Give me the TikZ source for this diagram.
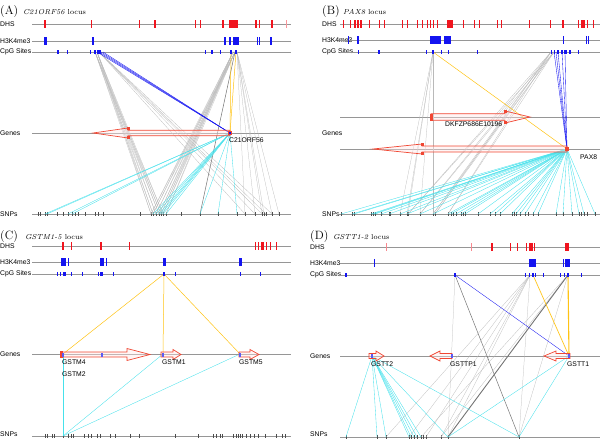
\documentclass[tikz,border=0pt]{standalone}
\usepackage{fontspec}
\newfontfamily\lab{Liberation Sans}
\definecolor{dhsred}{RGB}{240,20,30}
\definecolor{hblue}{RGB}{20,20,240}
\definecolor{cyl}{RGB}{70,225,235}
\definecolor{yel}{RGB}{255,195,20}
\definecolor{arr}{RGB}{240,70,50}
\definecolor{trk}{RGB}{150,150,150}
\newcommand{\trkmarks}[4]{\foreach \x/\w in {#4} \fill[#1] ({\x-\w/2},{#2-#3}) rectangle ({\x+\w/2},{#2+#3});}
\newcommand{\snpset}[3]{\foreach \x in {#3} {\coordinate (#1S\x) at (\x,#2); \draw[snpm] (\x,{#2-2}) -- (\x,{#2+2});}}
\newcommand{\genearrow}[6]{\draw[genea] (#1,{#4-#5}) -- (#3,{#4-#5}) -- (#3,{#4-#6}) -- (#2,#4) -- (#3,{#4+#6}) -- (#3,{#4+#5}) -- (#1,{#4+#5}) -- cycle;}
\begin{document}
\begin{tikzpicture}[x=1pt,y=-1pt,
 track/.style={draw=trk, line width=0.9pt},
 lbl/.style={font=\lab\fontsize{6.8}{8}\selectfont, anchor=west, inner sep=0pt},
 glbl/.style={font=\lab\fontsize{6.8}{8}\selectfont, anchor=north west, inner sep=0pt},
 ttl/.style={font=\fontsize{12}{13}\selectfont, anchor=base west, inner sep=0pt},
 loc/.style={font=\fontsize{7.2}{8}\selectfont, anchor=base west, inner sep=0pt},
 gr/.style={draw=gray!55, line width=0.25pt},
 dgr/.style={draw=gray!90!black, line width=0.5pt},
 cy/.style={draw=cyl, line width=0.35pt},
 bl/.style={draw=hblue, line width=0.35pt},
 ye/.style={draw=yel, line width=0.5pt},
 snpm/.style={draw=black!70, line width=0.5pt},
 genea/.style={draw=arr, line width=0.7pt, fill=red!10, fill opacity=0.4},
 tss/.style={fill=arr}]
\useasboundingbox (0,0) rectangle (600,439);
% ================= Panel A =================
\node[ttl] (aTi) at (0,14) {(A)};
\node[loc] (aLo) at (23,14) {\textit{C21ORF56} locus};
\node[lbl] (aL1) at (0,24) {DHS};
\node[lbl] (aL2) at (0,41) {H3K4me3};
\node[lbl] (aL3) at (0,52) {CpG Sites};
\node[lbl] (aL4) at (0,133) {Genes};
\node[lbl] (aL5) at (0,214) {SNPs};
\foreach \y in {24,41,52,133,214} \draw[track] (32,\y) -- (291,\y);
\snpset{a}{214}{38,40,45,47,57,63,68,72,75,78,85,95,98,103,140,151,153,156,159,161,163,166,181,200,218,237,245,255,262,264,266,272,279}
\foreach \c in {95,97,99,101,103,231,233,235,236,237} \coordinate (aC\c) at (\c,52);
\coordinate (aT) at (230,133);
\foreach \s in {151,153,156,159,161,163} {\draw[gr] (aC95) -- (aS\s); \draw[gr] (aC97) -- (aS\s);}
\foreach \s in {245,255,262,266,272} \draw[gr] (aC99) -- (aS\s);
\foreach \s in {151,153,156,159,161,163,166} {\draw[gr] (aC233) -- (aS\s); \draw[gr] (aC235) -- (aS\s);}
\foreach \s in {245,255,262,264,272,279} \draw[gr] (aC237) -- (aS\s);
\draw[dgr] (aC235) -- (aS200);
\foreach \c in {97,99,101,103} \draw[bl] (aC\c) -- (aT);
\draw[ye] (aC231) -- (aT); \draw[ye] (aC236) -- (aT);
\foreach \s in {45,47,68,72,153,156,159,161,163,166,200,218,237} \draw[cy] (aT) -- (aS\s);
\trkmarks{dhsred}{24}{4}{45/1.5,91.5/0.6,139.5/1,155/1.2,195/0.8,200/0.6,223/2,233.5/9,256/1.5,259.5/1.5,272/2}
\trkmarks{dhsred!45}{24}{4}{286/0.8}
\trkmarks{hblue}{41}{4}{45/3,93/2.5,225/1.5,229.5/2,236/6,257/1,259.5/1,271/1.5}
\trkmarks{hblue}{52}{1.8}{58/2,67/1,90/1,95/1.5,98/2,100/1.5,205/1,212/1.5,220/1,231/1.5,236/2}
\genearrow{230}{93}{128}{133}{2.7}{5}
\fill[arr] (126.5,127) rectangle (129.5,130); \fill[arr] (126.5,136) rectangle (129.5,139);
\fill[arr] (228,131) rectangle (232,135); \fill[hblue] (229.3,132.3) rectangle (230.7,133.7);
\node[glbl] (aG1) at (229,137.5) {C21ORF56};
% ================= Panel B =================
\node[ttl] (bTi) at (322,14) {(B)};
\node[loc] (bLo) at (343,14) {\textit{PAX8} locus};
\node[lbl] (bL1) at (322,24) {DHS};
\node[lbl] (bL2) at (322,40) {H3K4me3};
\node[lbl] (bL3) at (322,52) {CpG Sites};
\node[lbl] (bL4) at (322,133) {Genes};
\node[lbl] (bL5) at (322,214) {SNPs};
\foreach \y in {24,40,52,117,149} \draw[track] (340,\y) -- (600,\y);
\draw[track] (338,214) -- (600,214);
\snpset{b}{214}{341,352,354,371,373,375,381,389,390,400,407,408,420,433,435,448,451,453,456,461,463,465,478,490,495,500,512,514,516,520,525,528,533,538,556,563,572,579,581,584,587,595}
\foreach \c in {433,551,554,556,558,562,565} \coordinate (bC\c) at (\c,52);
\coordinate (bT) at (567,149);
\foreach \s in {400,407,408,420,433} \draw[gr] (bC433) -- (bS\s);
\foreach \s in {408,420,433,435,448} {\draw[gr] (bC551) -- (bS\s); \draw[gr] (bC554) -- (bS\s);}
\foreach \c in {554,556,558,562,565} \draw[bl] (bC\c) -- (bT);
\draw[ye] (bC433) -- (bT);
\foreach \s in {341,352,354,371,373,375,381,389,400,407,420,433,448,451,456,461,465,478,490,495,500,512,516,520,525,533,538,556,563,572,579,584,595} \draw[cy] (bT) -- (bS\s);
\trkmarks{dhsred}{24}{4}{343/0.6,350/1,355/1.2,358/1.2,361/1.2,369/0.6,379/0.6,384/0.6,402/0.6,407/0.6,417/0.6,422/0.6,427/1,430/1,433/1,437/1,449.5/6,463/0.6,474/0.6,479/0.6,497/0.6,501/0.6,529/1,550/0.6,563/1.5,578/1,581/1,583.5/3,587/1,593/0.6}
\trkmarks{hblue}{40}{4}{348/0.6,358/2,435.5/11,447.5/7,563/1,586/0.6,588/0.6}
\trkmarks{hblue}{52}{1.8}{358/1,379/1.5,426/1,433/1.5,441/1,448/1,477/1,551/1,554/1,558/1.5,562/1.5,565/3,570/1.5,578/1}
\genearrow{431}{530}{505}{117}{3.3}{6}
\fill[arr] (429.5,114) rectangle (432.5,120.5);
\fill[arr] (503.5,110) rectangle (506.5,113); \fill[arr] (503.5,121) rectangle (506.5,124);
\genearrow{567}{373}{422}{149}{3}{5}
\fill[arr] (420.5,143) rectangle (423.5,146); \fill[arr] (420.5,152) rectangle (423.5,155);
\fill[arr] (565,147) rectangle (569,151);
\node[glbl] (bG1) at (445,122) {DKFZP686E10196};
\node[glbl] (bG2) at (580,155) {PAX8};
% ================= Panel C =================
\node[ttl] (cTi) at (0,239) {(C)};
\node[loc] (cLo) at (25,239) {\textit{GSTM1-5} locus};
\node[lbl] (cL1) at (0,246) {DHS};
\node[lbl] (cL2) at (0,262) {H3K4me3};
\node[lbl] (cL3) at (0,274) {CpG Sites};
\node[lbl] (cL4) at (0,354) {Genes};
\node[lbl] (cL5) at (0,434.5) {SNPs};
\foreach \y in {246,262,274,354,436} \draw[track] (32,\y) -- (291,\y);
\snpset{c}{436}{45,47,52,54,63,68,71,73,84,88,91,97,100,110,115,130,139,175,198,213,216,220,222,233,236,238,240,242,246,250,254,258,265,276,282,285}
\coordinate (cC164) at (164,274);
\coordinate (cT4) at (63,354); \coordinate (cT1) at (163,354); \coordinate (cT5) at (240,354);
\draw[ye] (cC164) -- (cT4); \draw[ye] (cC164) -- (cT1); \draw[ye] (cC164) -- (cT5);
\draw[cy] (cS63) -- (cT4); \draw[cy] (cS63) -- (cT1); \draw[cy] (cS63) -- (cT5);
\trkmarks{dhsred}{246}{4}{63/2,71/1,101/2,129/1,255/0.6,258/0.6,261/1,263/1.5,266/1,270/0.6,276/0.8}
\trkmarks{hblue}{262}{4}{63/5,68/1,101.5/4,106/1,164/3,240/3}
\trkmarks{hblue}{274}{1.8}{57/1,60/1,64/3,71/1,82/1,98/1,101.5/3,113/1,164/2,175/1,240/1,260/1}
\genearrow{61}{150}{127}{354.5}{2.5}{6}
\fill[arr] (60,351) rectangle (63,358);
\genearrow{161}{181}{173}{354.5}{2.5}{5}
\genearrow{239}{259}{250}{354.5}{2.5}{5}
\foreach \x in {63,102,163,240} \fill[hblue!70] ({\x-0.6},352.5) rectangle ({\x+0.6},356.5);
\node[glbl] (cG1) at (62,359.5) {GSTM4};
\node[glbl] (cG2) at (62,371.5) {GSTM2};
\node[glbl] (cG3) at (162,359.5) {GSTM1};
\node[glbl] (cG4) at (239,359.5) {GSTM5};
% ================= Panel D =================
\node[ttl] (dTi) at (310,239) {(D)};
\node[loc] (dLo) at (333,239) {\textit{GSTT1-2} locus};
\node[lbl] (dL1) at (310,247) {DHS};
\node[lbl] (dL2) at (310,263) {H3K4me3};
\node[lbl] (dL3) at (310,275) {CpG Sites};
\node[lbl] (dL4) at (310,356) {Genes};
\node[lbl] (dL5) at (310,434.5) {SNPs};
\foreach \y in {247,263,275,356,437} \draw[track] (340,\y) -- (600,\y);
\snpset{d}{437}{346,377,386,409,411,414,417,421,423,426,441,448,519}
\foreach \c in {455,530,533,568} \coordinate (dC\c) at (\c,275);
\coordinate (dT2) at (372,356); \coordinate (dTP) at (452,356); \coordinate (dT1) at (569,356);
\draw[gr] (dC455) -- (dS448); \draw[dgr] (dC455) -- (dS519);
\foreach \s in {386,409,426,441,448,519} \draw[gr] (dC530) -- (dS\s);
\foreach \s in {421,441,519} \draw[gr] (dC568) -- (dS\s);
\draw[dgr, line width=0.9pt] (dC568) -- (dS448);
\draw[bl] (dC455) -- (dT1);
\draw[ye, line width=0.7pt] (dC533) -- (dT1);
\draw[ye, line width=1.1pt] (dC568) -- (dT1);
\foreach \s in {346,377,386,409,411,414,417,421,448,519} \draw[cy] (dT2) -- (dS\s);
\draw[cy] (dT1) -- (dS448); \draw[cy] (dT1) -- (dS519);
\trkmarks{dhsred!50}{247}{4}{386/0.6,471/0.6}
\trkmarks{dhsred}{247}{4}{492/2,510/0.6,517/0.6,526/0.6,531/3.5,534.5/1.2,567/4}
\trkmarks{hblue}{263}{4}{374/0.6,532/7,563/1,567.5/5}
\trkmarks{hblue}{275}{1.8}{346/2,455/2,525/1,529/1,533/2,535/1,543/1,560/1,564/1,568/2.5,581/1}
\genearrow{369}{384}{376}{356}{2.5}{5}
\genearrow{452}{430}{440}{356}{2.5}{5}
\genearrow{570}{544}{556}{356}{2.5}{5}
\foreach \x in {372,452,569} \fill[hblue!70] ({\x-0.6},354) rectangle ({\x+0.6},358);
\node[glbl] (dG1) at (371,361.5) {GSTT2};
\node[glbl] (dG2) at (450,361.5) {GSTTP1};
\node[glbl] (dG3) at (567,361.5) {GSTT1};
\end{tikzpicture}
\end{document}
